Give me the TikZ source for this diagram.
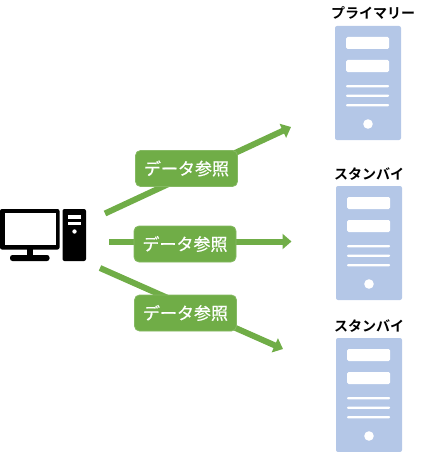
\documentclass[tikz,border=0pt]{standalone}
\usepackage{fontspec}
\newfontfamily\cjk[FakeBold=0.5]{Noto Sans CJK JP}
\newfontfamily\cjkb{Noto Sans CJK JP Bold}
\usetikzlibrary{arrows.meta}
\definecolor{grn}{HTML}{70AD47}
\definecolor{srv}{HTML}{B4C7E7}
\tikzset{
  flow/.style={draw=grn,line width=6pt,-{Triangle[length=9pt,width=15pt]},shorten >=0pt},
  tag/.style={fill=grn,draw=grn!85!white,line width=0.8pt,rounded corners=5pt,minimum width=102pt,minimum height=36pt,inner sep=0pt,text=white,font=\cjk\fontsize{17}{18}\selectfont},
  title/.style={font=\cjkb\fontsize{14}{14}\selectfont,text=black,inner sep=0pt},
  pics/srvbox/.style={code={
    \fill[srv,rounded corners=2pt] (0,0) rectangle (66,114);
    \fill[white,rounded corners=1.5pt] (11,11) rectangle (54,23);
    \fill[white,rounded corners=1.5pt] (11,34) rectangle (54,46);
    \fill[white,rounded corners=1pt] (11,59) rectangle (54,61.4);
    \fill[white,rounded corners=1pt] (11,68.5) rectangle (54,70.9);
    \fill[white,rounded corners=1pt] (11,78) rectangle (54,80.4);
    \fill[white] (33,98) circle (4.8);
  }}
}
\begin{document}
\begin{tikzpicture}[x=1pt,y=-1pt]
\useasboundingbox (0,0) rectangle (432,452);
% client
\fill[black,rounded corners=2pt] (0,209) rectangle (59.5,249.5);
\fill[white] (4.5,213) rectangle (55.5,244.5);
\fill[black] (27,249) rectangle (32.5,256);
\fill[black,rounded corners=2.5pt] (10,255) rectangle (49.5,261);
\fill[black,rounded corners=2pt] (62.5,209) rectangle (86,261);
\fill[white] (67.5,215) rectangle (81,218.5);
\fill[white] (67.5,221.5) rectangle (81,224.5);
\fill[white] (74.5,231.5) circle (2.2);
% servers
\pic at (335,26) {srvbox};
\pic at (336,186) {srvbox};
\pic at (336,338) {srvbox};
\node[title] (t1) at (373,12.5) {プライマリー};
\node[title] (t2) at (369,174) {スタンバイ};
\node[title] (t3) at (369,326) {スタンバイ};
% connector ends
\coordinate (a1) at (105,213.5);
\coordinate (b1) at (291,127);
\coordinate (a2) at (109,241.5);
\coordinate (b2) at (291.5,241.5);
\coordinate (a3) at (100,268);
\coordinate (b3) at (283,349);
\draw[flow] (a1) -- (b1);
\draw[flow] (a2) -- (b2);
\draw[flow] (a3) -- (b3);
\node[tag] (l1) at (186.5,168.5) {データ参照};
\node[tag] (l2) at (185,244) {データ参照};
\node[tag] (l3) at (185.5,313) {データ参照};
\end{tikzpicture}
\end{document}
